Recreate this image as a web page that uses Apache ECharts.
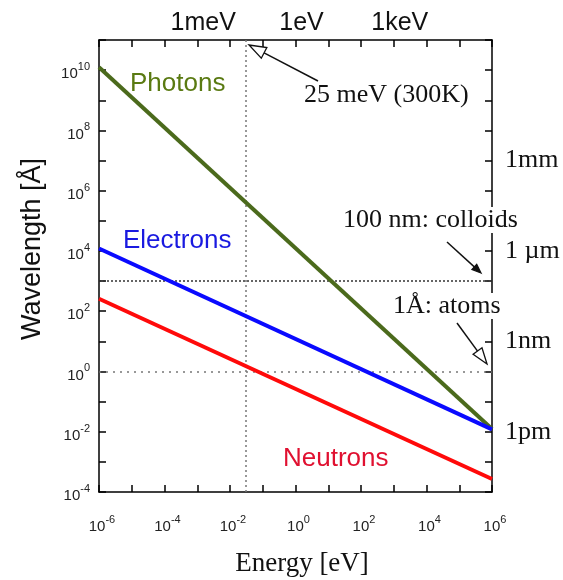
<!DOCTYPE html>
<html><head><meta charset="utf-8">
<script src="https://cdn.jsdelivr.net/npm/echarts@6/dist/echarts.min.js"></script>
<style>html,body{margin:0;padding:0;background:#fff}#c{width:563px;height:580px}</style>
</head><body><div id="c"></div>
<script>
// ---- data ----
const energyRange = [1e-6, 1e6];
const wavelengthRange = [1e-4, 1e11];
const energyEndpoints = [1e-6, 1e6];
const photonWavelengths = [1.24e10, 1.24e-2];
const electronWavelengths = [1.2e4, 1.2e-2];
const neutronWavelengths = [2.6e2, 2.7e-4];
const thermalEnergy = 0.025;          // 25 meV (300K)
const colloidWavelength = 1e3;        // 100 nm
const atomWavelength = 1;             // 1 Å
const topTickLabels = { '-3': '1meV', '0': '1eV', '3': '1keV' };
const rightTickLabels = { '7': '1mm', '4': '1 µm', '1': '1nm', '-2': '1pm' };

const SANS = "'Liberation Sans', Arial, sans-serif";
const SERIF = "'Liberation Serif', 'Times New Roman', serif";

function pairs(xs, ys) { return xs.map((x, i) => [x, ys[i]]); }
function expOf(v) { return Math.round(Math.log10(v)); }
function powLabel(v) {
  const e = expOf(v);
  if (e % 2 !== 0) return '';
  return '{b|10}{s|' + e + '}';
}
const powRich = {
  b: { fontSize: 15, fontFamily: SANS, color: '#222', lineHeight: 20, verticalAlign: 'bottom' },
  s: { fontSize: 11, fontFamily: SANS, color: '#222', lineHeight: 20, verticalAlign: 'top' }
};

const tickStyle = { show: true, inside: true, length: 7, interval: 0, lineStyle: { color: '#000', width: 1.5 } };
const lineAxis = { show: true, lineStyle: { color: '#000', width: 1.5 } };

const chart = echarts.init(document.getElementById('c'));

function arrow(sx, sy, tx, ty, open, L, W) {
  const dx = tx - sx, dy = ty - sy, len = Math.hypot(dx, dy);
  const ux = dx / len, uy = dy / len, nx = -uy, ny = ux;
  const bx = tx - ux * L, by = ty - uy * L;
  return [
    { type: 'line', z: 110, shape: { x1: sx, y1: sy, x2: open ? bx : tx - ux * 2, y2: open ? by : ty - uy * 2 },
      style: { stroke: '#111', lineWidth: 1.5 } },
    { type: 'polygon', z: 111, shape: { points: [[tx, ty], [bx + nx * W, by + ny * W], [bx - nx * W, by - ny * W]] },
      style: { fill: open ? '#fff' : '#111', stroke: '#111', lineWidth: 1.3 } }
  ];
}

function txt(x, y, text, font, size, color, extra) {
  return Object.assign({ type: 'text', x: x, y: y, z: 105,
    style: Object.assign({ text: text, font: size + 'px ' + font, fill: color,
      textAlign: 'left', textVerticalAlign: 'middle' }, extra || {}) });
}

const option = {
  animation: false,
  backgroundColor: '#fff',
  grid: { left: 99, right: 71, top: 40, bottom: 88 },
  xAxis: [
    { type: 'log', logBase: 10, min: energyRange[0], max: energyRange[1], interval: 1, position: 'bottom',
      axisLine: lineAxis, axisTick: tickStyle, splitLine: { show: false }, minorTick: { show: false },
      axisLabel: { interval: 0, margin: 22, padding: [0, 0, 0, 6], formatter: powLabel, rich: powRich } },
    { type: 'log', logBase: 10, min: energyRange[0], max: energyRange[1], interval: 1, position: 'top',
      axisLine: lineAxis, axisTick: tickStyle, splitLine: { show: false },
      axisLabel: { interval: 0, margin: 4, padding: [0, 0, 0, 12], fontSize: 25, fontFamily: SANS, color: '#111',
        formatter: v => topTickLabels[String(expOf(v))] || '' } }
  ],
  yAxis: [
    { type: 'log', logBase: 10, min: wavelengthRange[0], max: wavelengthRange[1], interval: 1, position: 'left',
      axisLine: lineAxis, axisTick: tickStyle, splitLine: { show: false },
      axisLabel: { interval: 0, margin: 9, padding: [3, 0, 0, 0], formatter: powLabel, rich: powRich } },
    { type: 'log', logBase: 10, min: wavelengthRange[0], max: wavelengthRange[1], interval: 1, position: 'right',
      axisLine: lineAxis, axisTick: tickStyle, splitLine: { show: false },
      axisLabel: { interval: 0, margin: 13, fontSize: 26, fontFamily: SERIF, color: '#111',
        formatter: v => rightTickLabels[String(expOf(v))] || '' } }
  ],
  series: [
    { type: 'line', name: 'Photons', xAxisIndex: 0, yAxisIndex: 0, data: pairs(energyEndpoints, photonWavelengths),
      showSymbol: false, silent: true, lineStyle: { color: '#4b6a1c', width: 4 }, z: 3,
      markLine: { silent: true, symbol: ['none', 'none'], label: { show: false }, z: 1,
        data: [
          { xAxis: thermalEnergy, lineStyle: { type: [2, 3], color: '#777', width: 1.5 } },
          { yAxis: colloidWavelength, lineStyle: { type: [2, 2], color: '#333', width: 1.5 } },
          { yAxis: atomWavelength, lineStyle: { type: [2, 5], color: '#777', width: 1.5 } }
        ] } },
    { type: 'line', name: 'Electrons', xAxisIndex: 0, yAxisIndex: 0, data: pairs(energyEndpoints, electronWavelengths),
      showSymbol: false, silent: true, lineStyle: { color: '#0a0aff', width: 4 }, z: 4 },
    { type: 'line', name: 'Neutrons', xAxisIndex: 0, yAxisIndex: 0, data: pairs(energyEndpoints, neutronWavelengths),
      showSymbol: false, silent: true, lineStyle: { color: '#ff0a0a', width: 4 }, z: 4 }
  ],
  graphic: [
    txt(130, 84, 'Photons', SANS, 26, '#5a7a12'),
    txt(123, 241, 'Electrons', SANS, 26, '#1a1ae0'),
    txt(283, 459, 'Neutrons', SANS, 26, '#e01030'),
    txt(304, 95, '25 meV (300K)', SERIF, 26, '#111', { backgroundColor: '#fff' }),
    txt(343, 220, '100 nm: colloids', SERIF, 26, '#111', { backgroundColor: '#fff' }),
    txt(393, 306, '1Å: atoms', SERIF, 26, '#111', { backgroundColor: '#fff' }),
    { type: 'text', x: 33, y: 249, rotation: Math.PI / 2, z: 105,
      style: { text: 'Wavelength [Å]', font: '27px ' + SANS, fill: '#111', textAlign: 'center', textVerticalAlign: 'middle' } },
    { type: 'text', x: 302, y: 564, z: 105,
      style: { text: 'Energy [eV]', font: '27px ' + SERIF, fill: '#111', textAlign: 'center', textVerticalAlign: 'middle' } }
  ].concat(arrow(318, 81, 249, 45, true, 17, 6))
   .concat(arrow(447, 242, 481, 273, false, 9, 3.5))
   .concat(arrow(457, 323, 487, 364, true, 16, 5.5))
};
chart.setOption(option);
</script></body></html>
